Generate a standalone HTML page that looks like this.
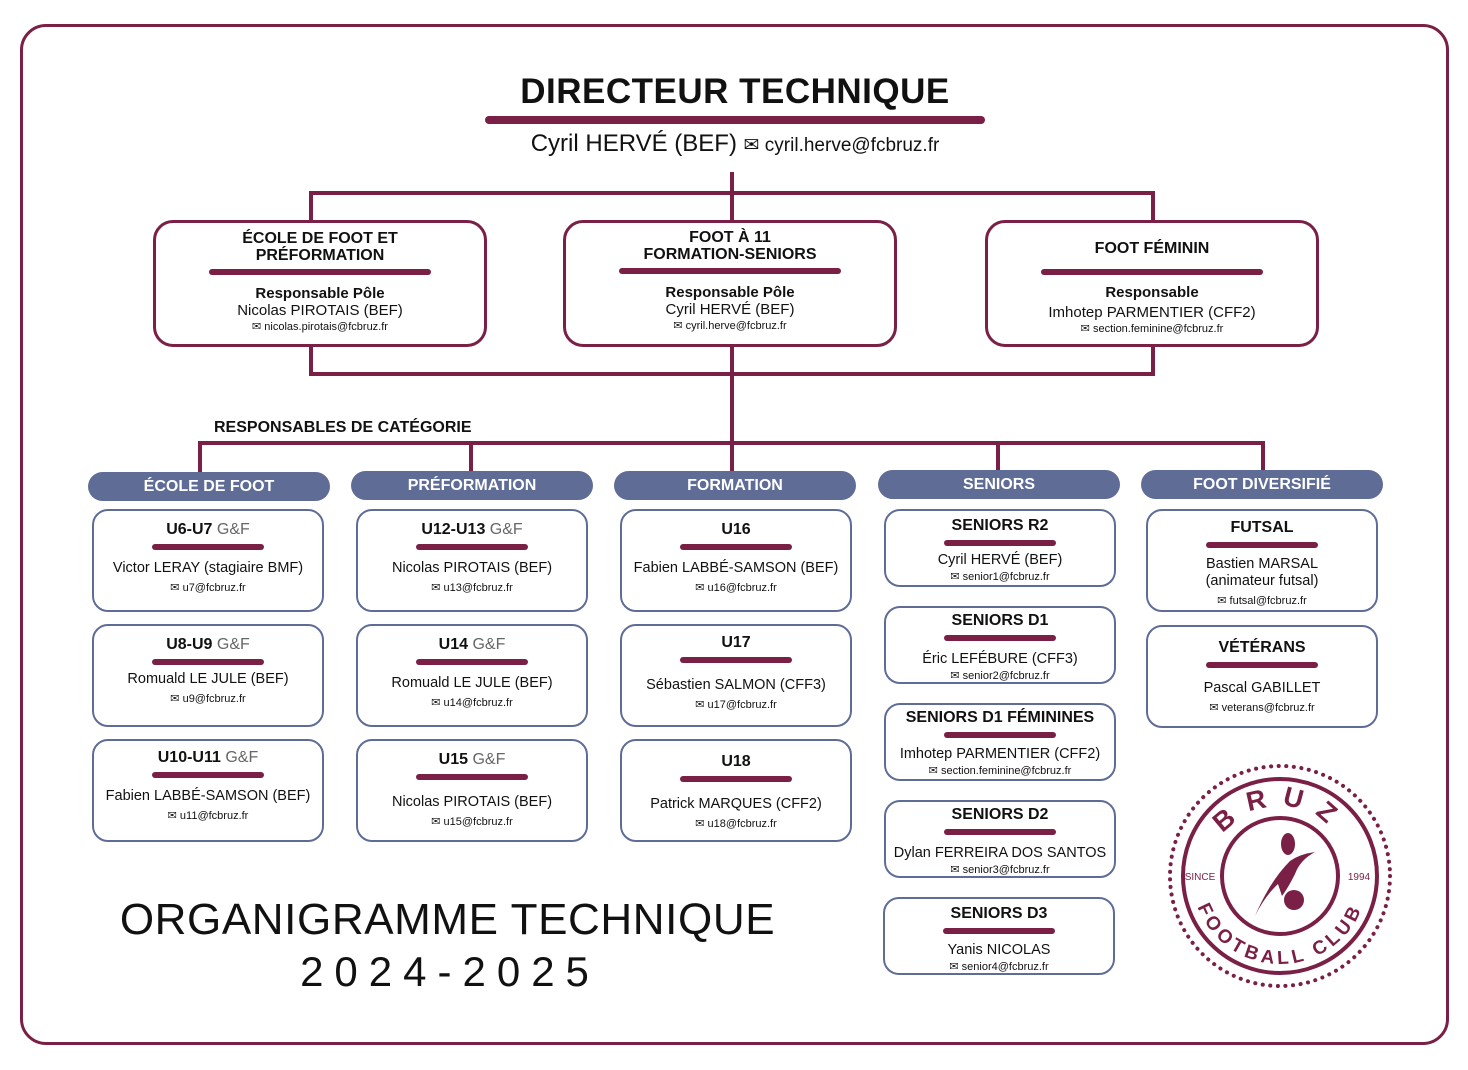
<!DOCTYPE html>
<html><head><meta charset="utf-8"><style>
*{margin:0;padding:0;box-sizing:border-box}
body{width:1468px;height:1070px;background:#fff;position:relative;font-family:"Liberation Sans","DejaVu Sans",sans-serif;color:#111;overflow:hidden}
.a{position:absolute}
.ln{position:absolute;background:#7a1f45}
.bx{position:absolute;border:3px solid #7a1f45;border-radius:20px;text-align:center;font-size:15px;line-height:17px;background:#fff}
.bx b{display:block;font-size:16px}
.bar{background:#7a1f45;height:6px;border-radius:3px;margin:0 auto}
.hd{position:absolute;height:29px;background:#5f6d96;border-radius:15px;color:#fff;font-weight:bold;font-size:16px;text-align:center;line-height:29px}
.cd{position:absolute;border:2px solid #5f6d96;border-radius:16px;text-align:center;font-size:14.5px;width:232px}
.cd .t{font-weight:bold;font-size:16px;margin-top:10px;height:20px}
.cd .t span{font-weight:normal;color:#666}
.cd .bar{width:112px;margin-top:3px}
.cd .n{margin-top:10px;line-height:17px}
.cd .m{font-size:11px;margin-top:4px}
</style></head><body>
<div class="a" style="left:20px;top:24px;width:1429px;height:1021px;border:3px solid #7a1f45;border-radius:26px"></div>

<div class="a" style="left:435px;top:72px;width:600px;text-align:center;font-weight:bold;font-size:35px;letter-spacing:0.5px">DIRECTEUR TECHNIQUE</div>
<div class="ln" style="left:485px;top:116px;width:500px;height:8px;border-radius:4px"></div>
<div class="a" style="left:435px;top:130px;width:600px;text-align:center;font-size:24px">Cyril HERVÉ (BEF) <span style="font-size:19px">✉ cyril.herve@fcbruz.fr</span></div>

<div class="ln" style="left:730px;top:172px;width:4px;height:272px"></div>
<div class="ln" style="left:309px;top:191px;width:846px;height:4px"></div>
<div class="ln" style="left:309px;top:191px;width:4px;height:30px"></div>
<div class="ln" style="left:1151px;top:191px;width:4px;height:30px"></div>
<div class="ln" style="left:309px;top:372px;width:846px;height:4px"></div>
<div class="ln" style="left:309px;top:345px;width:4px;height:30px"></div>
<div class="ln" style="left:1151px;top:345px;width:4px;height:30px"></div>

<div class="bx" style="left:153px;top:220px;width:334px;height:127px;padding-top:7px"><b>ÉCOLE DE FOOT ET<br>PRÉFORMATION</b><div class="bar" style="width:222px;margin-top:5px"></div><b style="margin-top:10px;font-size:15px">Responsable Pôle</b>Nicolas PIROTAIS (BEF)<div style="font-size:11px">✉ nicolas.pirotais@fcbruz.fr</div></div>
<div class="bx" style="left:563px;top:220px;width:334px;height:127px;padding-top:6px"><b>FOOT À 11<br>FORMATION-SENIORS</b><div class="bar" style="width:222px;margin-top:5px"></div><b style="margin-top:10px;font-size:15px">Responsable Pôle</b>Cyril HERVÉ (BEF)<div style="font-size:11px">✉ cyril.herve@fcbruz.fr</div></div>
<div class="bx" style="left:985px;top:220px;width:334px;height:127px;padding-top:17px"><b>FOOT FÉMININ</b><div class="bar" style="width:222px;margin-top:12px"></div><b style="margin-top:9px;font-size:15px">Responsable</b><div style="margin-top:3px">Imhotep PARMENTIER (CFF2)</div><div style="font-size:11px">✉ section.feminine@fcbruz.fr</div></div>

<div class="a" style="left:214px;top:419px;font-weight:bold;font-size:16px">RESPONSABLES DE CATÉGORIE</div>
<div class="ln" style="left:198px;top:441px;width:1067px;height:4px"></div>
<div class="ln" style="left:198px;top:441px;width:4px;height:32px"></div>
<div class="ln" style="left:469px;top:441px;width:4px;height:32px"></div>
<div class="ln" style="left:996px;top:441px;width:4px;height:32px"></div>
<div class="ln" style="left:1261px;top:441px;width:4px;height:32px"></div>
<div class="ln" style="left:730px;top:441px;width:4px;height:32px"></div>

<div class="hd" style="left:88px;top:472px;width:242px">ÉCOLE DE FOOT</div>
<div class="hd" style="left:351px;top:471px;width:242px">PRÉFORMATION</div>
<div class="hd" style="left:614px;top:471px;width:242px">FORMATION</div>
<div class="hd" style="left:878px;top:470px;width:242px">SENIORS</div>
<div class="hd" style="left:1141px;top:470px;width:242px">FOOT DIVERSIFIÉ</div>

<div class="cd" style="left:92px;top:509px;height:103px"><div class="t">U6-U7 <span>G&amp;F</span></div><div class="bar"></div><div class="n">Victor LERAY (stagiaire BMF)</div><div class="m">✉ u7@fcbruz.fr</div></div>
<div class="cd" style="left:92px;top:624px;height:103px"><div class="t">U8-U9 <span>G&amp;F</span></div><div class="bar"></div><div class="n" style="margin-top:6px">Romuald LE JULE (BEF)</div><div class="m">✉ u9@fcbruz.fr</div></div>
<div class="cd" style="left:92px;top:739px;height:103px"><div class="t" style="margin-top:8px">U10-U11 <span>G&amp;F</span></div><div class="bar"></div><div class="n">Fabien LABBÉ-SAMSON (BEF)</div><div class="m">✉ u11@fcbruz.fr</div></div>

<div class="cd" style="left:356px;top:509px;height:103px"><div class="t">U12-U13 <span>G&amp;F</span></div><div class="bar"></div><div class="n">Nicolas PIROTAIS (BEF)</div><div class="m">✉ u13@fcbruz.fr</div></div>
<div class="cd" style="left:356px;top:624px;height:103px"><div class="t">U14 <span>G&amp;F</span></div><div class="bar"></div><div class="n">Romuald LE JULE (BEF)</div><div class="m">✉ u14@fcbruz.fr</div></div>
<div class="cd" style="left:356px;top:739px;height:103px"><div class="t">U15 <span>G&amp;F</span></div><div class="bar"></div><div class="n" style="margin-top:14px">Nicolas PIROTAIS (BEF)</div><div class="m">✉ u15@fcbruz.fr</div></div>

<div class="cd" style="left:620px;top:509px;height:103px"><div class="t">U16</div><div class="bar"></div><div class="n">Fabien LABBÉ-SAMSON (BEF)</div><div class="m">✉ u16@fcbruz.fr</div></div>
<div class="cd" style="left:620px;top:624px;height:103px"><div class="t" style="margin-top:8px">U17</div><div class="bar"></div><div class="n" style="margin-top:14px">Sébastien SALMON (CFF3)</div><div class="m">✉ u17@fcbruz.fr</div></div>
<div class="cd" style="left:620px;top:739px;height:103px"><div class="t" style="margin-top:12px">U18</div><div class="bar"></div><div class="n" style="margin-top:14px">Patrick MARQUES (CFF2)</div><div class="m">✉ u18@fcbruz.fr</div></div>

<div class="cd" style="left:884px;top:509px;height:78px"><div class="t" style="margin-top:6px">SENIORS R2</div><div class="bar"></div><div class="n" style="margin-top:6px">Cyril HERVÉ (BEF)</div><div class="m" style="margin-top:1px">✉ senior1@fcbruz.fr</div></div>
<div class="cd" style="left:884px;top:606px;height:78px"><div class="t" style="margin-top:4px">SENIORS D1</div><div class="bar"></div><div class="n" style="margin-top:10px">Éric LEFÉBURE (CFF3)</div><div class="m" style="margin-top:1px">✉ senior2@fcbruz.fr</div></div>
<div class="cd" style="left:884px;top:703px;height:78px"><div class="t" style="margin-top:4px">SENIORS D1 FÉMININES</div><div class="bar"></div><div class="n" style="margin-top:8px">Imhotep PARMENTIER (CFF2)</div><div class="m" style="margin-top:1px">✉ section.feminine@fcbruz.fr</div></div>
<div class="cd" style="left:884px;top:800px;height:78px"><div class="t" style="margin-top:4px">SENIORS D2</div><div class="bar"></div><div class="n" style="margin-top:10px">Dylan FERREIRA DOS SANTOS</div><div class="m" style="margin-top:1px">✉ senior3@fcbruz.fr</div></div>
<div class="cd" style="left:883px;top:897px;height:78px"><div class="t" style="margin-top:6px">SENIORS D3</div><div class="bar"></div><div class="n" style="margin-top:8px">Yanis NICOLAS</div><div class="m" style="margin-top:1px">✉ senior4@fcbruz.fr</div></div>

<div class="cd" style="left:1146px;top:509px;height:103px"><div class="t" style="margin-top:8px">FUTSAL</div><div class="bar"></div><div class="n" style="margin-top:8px">Bastien MARSAL<br>(animateur futsal)</div><div class="m">✉ futsal@fcbruz.fr</div></div>
<div class="cd" style="left:1146px;top:625px;height:103px"><div class="t" style="margin-top:12px">VÉTÉRANS</div><div class="bar"></div><div class="n" style="margin-top:12px">Pascal GABILLET</div><div class="m">✉ veterans@fcbruz.fr</div></div>

<div class="a" style="left:100px;top:895px;width:695px;text-align:center;font-size:44px;letter-spacing:0.6px">ORGANIGRAMME TECHNIQUE</div>
<div class="a" style="left:200px;top:948px;width:500px;text-align:center;font-size:42px;letter-spacing:11px">2024-2025</div>

<svg class="a" style="left:1160px;top:756px" width="240" height="240" viewBox="0 0 240 240">
<circle cx="120" cy="120" r="110" fill="none" stroke="#7a1f45" stroke-width="4" stroke-dasharray="0.1 7.5" stroke-linecap="round"/>
<circle cx="120" cy="120" r="97" fill="none" stroke="#7a1f45" stroke-width="4"/>
<circle cx="120" cy="120" r="58" fill="none" stroke="#7a1f45" stroke-width="4"/>
<defs><path id="tp" d="M50,120 A70,70 0 0 1 190,120"/><path id="bp" d="M32,120 A88,88 0 0 0 208,120"/></defs>
<text font-family="Liberation Sans" font-weight="bold" font-size="27" fill="#7a1f45" letter-spacing="14"><textPath href="#tp" startOffset="50%" text-anchor="middle">BRUZ</textPath></text>
<text font-family="Liberation Sans" font-weight="bold" font-size="19" fill="#7a1f45" letter-spacing="4"><textPath href="#bp" startOffset="50%" text-anchor="middle">FOOTBALL CLUB</textPath></text>
<text x="40" y="124" font-size="10" fill="#7a1f45" text-anchor="middle" font-family="Liberation Sans">SINCE</text>
<text x="199" y="124" font-size="10" fill="#7a1f45" text-anchor="middle" font-family="Liberation Sans">1994</text>
<ellipse cx="128" cy="88" rx="7" ry="11" fill="#7a1f45"/>
<path d="M95,160 Q110,125 130,105 Q140,98 155,96 Q140,104 135,118 Q128,132 122,140 L118,128 Q105,140 95,160Z" fill="#7a1f45"/>
<circle cx="134" cy="144" r="10" fill="#7a1f45"/>
</svg>
</body></html>
